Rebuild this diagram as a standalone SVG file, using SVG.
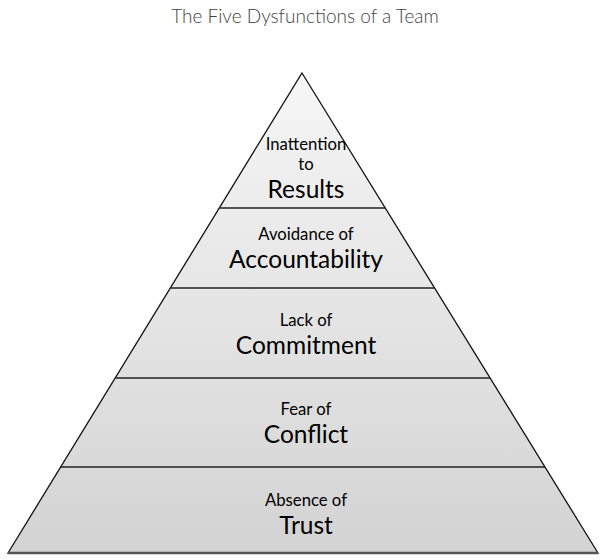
<svg xmlns="http://www.w3.org/2000/svg" width="605" height="560" viewBox="0 0 605 560">
<style>
.t{font-family:Lato,"Open Sans","Liberation Sans",sans-serif;fill:#000;text-anchor:middle}
.s{font-size:16.7px}
.b{font-size:24.5px}
.title{font-family:Lato,"Open Sans","Liberation Sans",sans-serif;font-weight:300;font-size:19px;fill:#444;text-anchor:middle}
.div{stroke:#222;stroke-width:1.5}
</style>
<defs>
<linearGradient id="g" x1="0" y1="73" x2="0" y2="553" gradientUnits="userSpaceOnUse">
<stop offset="0" stop-color="#f6f6f6"/>
<stop offset="1" stop-color="#d3d3d3"/>
</linearGradient>
</defs>
<text class="title" x="305" y="23">The Five Dysfunctions of a Team</text>
<g id="pyramid">
<polygon points="302,73 598,553 8,553" fill="url(#g)" stroke="#111" stroke-width="1.3"/>
<line x1="8" y1="553" x2="598" y2="553" stroke="#555" stroke-width="2.5"/>
</g>
<g id="dividers">
<line class="div" x1="219.3" y1="208" x2="385.3" y2="208"/>
<line class="div" x1="170.3" y1="288" x2="434.6" y2="288"/>
<line class="div" x1="115.2" y1="378" x2="490.1" y2="378"/>
<line class="div" x1="60.7" y1="467" x2="545" y2="467"/>
</g>
<g id="results">
<text class="t s" x="306" y="150">Inattention</text>
<text class="t s" x="306" y="170">to</text>
<text class="t b" x="306" y="198">Results</text>
</g>
<g id="accountability">
<text class="t s" x="306" y="240">Avoidance of</text>
<text class="t b" x="306" y="268">Accountability</text>
</g>
<g id="commitment">
<text class="t s" x="306" y="326">Lack of</text>
<text class="t b" x="306" y="354">Commitment</text>
</g>
<g id="conflict">
<text class="t s" x="306" y="415">Fear of</text>
<text class="t b" x="306" y="443">Conflict</text>
</g>
<g id="trust">
<text class="t s" x="306" y="506">Absence of</text>
<text class="t b" x="306" y="534">Trust</text>
</g>
</svg>
